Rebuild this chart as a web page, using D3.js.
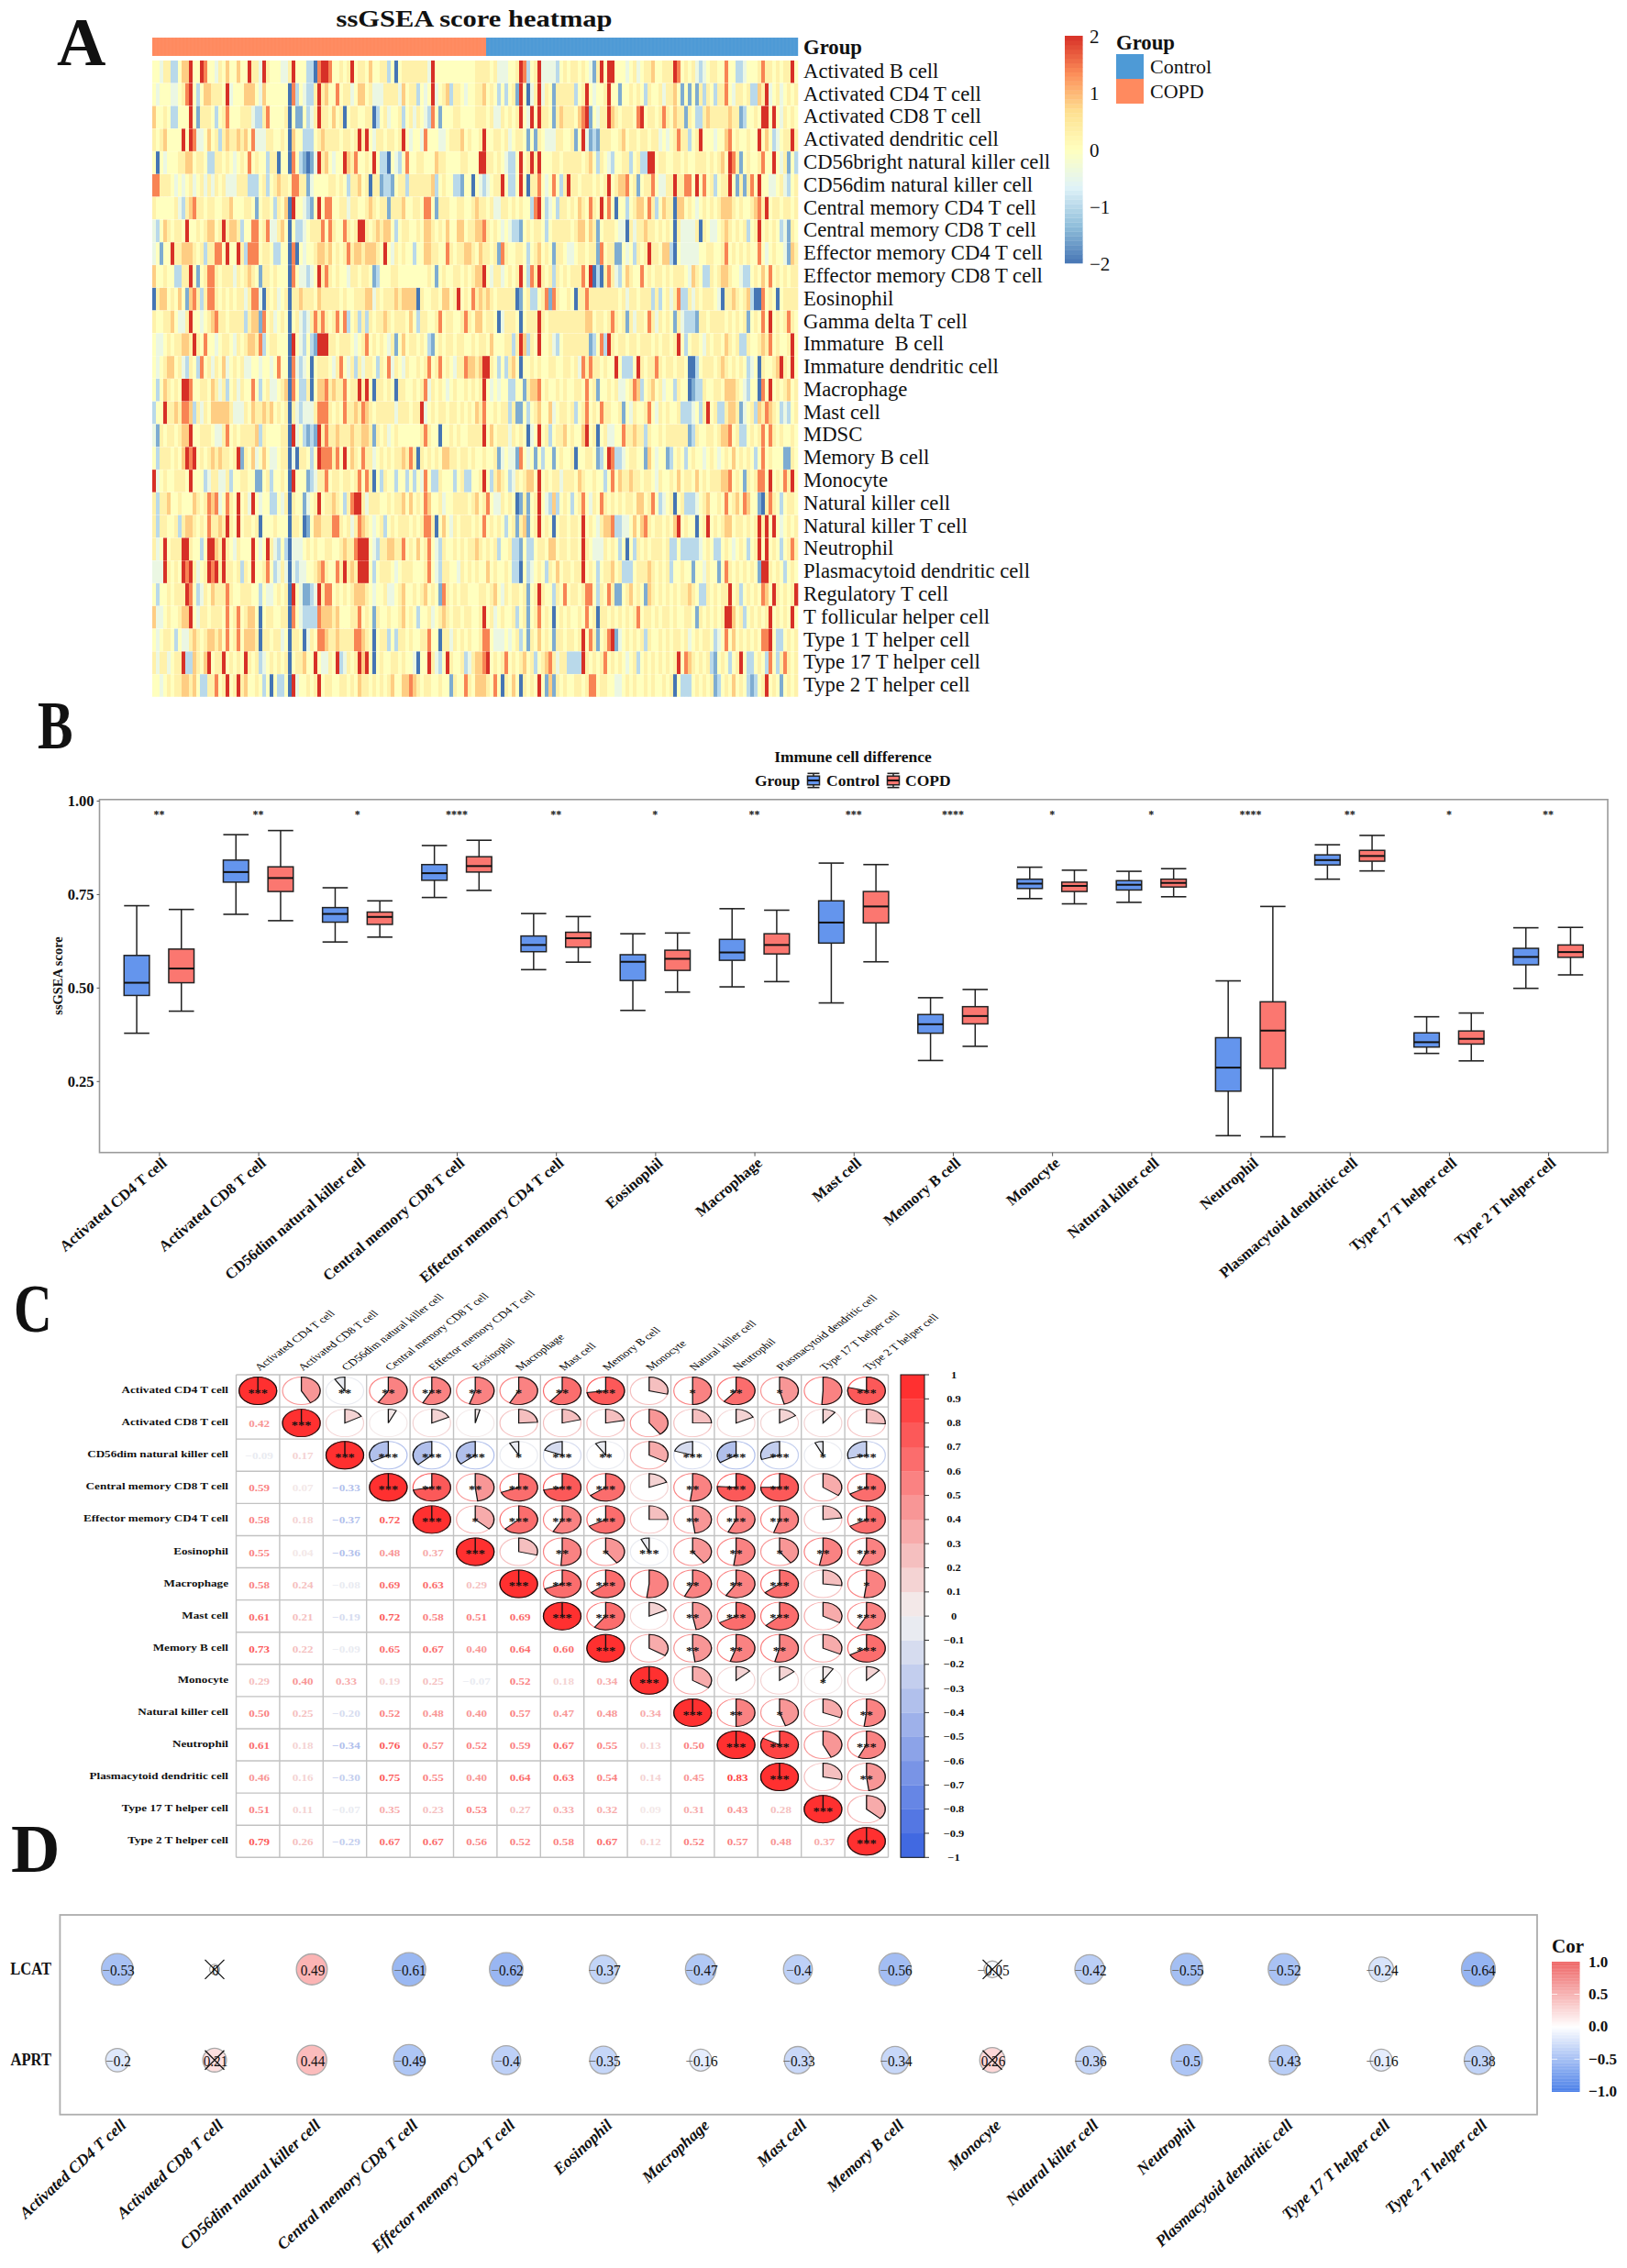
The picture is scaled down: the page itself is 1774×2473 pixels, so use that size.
<!DOCTYPE html>
<html><head><meta charset="utf-8">
<script src="https://cdn.jsdelivr.net/npm/d3@7/dist/d3.min.js"></script>
<style>
html,body{margin:0;padding:0;background:#fff}
svg{display:block}
text{font-family:"Liberation Serif",serif;fill:#111;white-space:pre}
</style></head><body>
<svg id="c" width="1774" height="2473"></svg>
<script>
/* ---------- Panel A data: colour levels 0-8 ---------- */
const heatLabels=["Activated B cell","Activated CD4 T cell","Activated CD8 T cell","Activated dendritic cell","CD56bright natural killer cell","CD56dim natural killer cell","Central memory CD4 T cell","Central memory CD8 T cell","Effector memory CD4 T cell","Effector memory CD8 T cell","Eosinophil","Gamma delta T cell","Immature  B cell","Immature dendritic cell","Macrophage","Mast cell","MDSC","Memory B cell","Monocyte","Natural killer cell","Natural killer T cell","Neutrophil","Plasmacytoid dendritic cell","Regulatory T cell","T follicular helper cell","Type 1 T helper cell","Type 17 T helper cell","Type 2 T helper cell"];
const heatLeft=[
"4435522466 8448744354 6446448553 8544433584 4422078874 4545845546 4455240455 5555538444 44444444",
"4344433457 8424665554 8344466643 6444444072 4322585644 7455346645 3335555364 5524348345 62554344",
"6445422444 8415554245 7444555322 5744445041 1423585546 4504554455 0245344524 5354327414 44554444",
"5456444484 8733464525 6556564733 3554454064 4222456555 5455458584 3554554584 3443744433 45556454",
"4043444556 6455422554 5434547454 4255044074 2101385643 4486574454 8422043247 4455444655 44445544",
"7755543434 5345353545 3335552224 5245655477 5513444455 4542556450 5512214552 5555556245 44221440",
"5444445325 6755455445 5644455414 5542546084 4321484774 4553554456 5455155564 4554774155 54455445",
"3246545548 4454566458 5665244774 5733564042 2345557475 4475458854 5656642455 4454665454 64466455",
"3414485566 6545255774 8448527774 5542244070 4344566564 5457566566 6548435454 4244665544 75455665",
"6445442255 8414577545 5535456541 5545444074 3323485754 5443554554 1244455444 4444454145 44554545",
"0566454641 6752577545 4545535773 0545345055 6555465555 5454455566 3545556566 6605445546 64584547",
"5445564335 8443456755 4555525661 7453454045 3235757545 7472452525 4556545554 6425544574 55445754",
"4334545566 5854744345 5435456657 2455444084 3242188855 4555434574 5454351464 5545421454 55455445",
"4345664532 5427453546 3454533443 4434744073 2340455543 5743525355 4254735435 4454574574 54355766",
"4246545488 7445546535 2453544742 4533456074 2250466756 5574558584 0554540554 4545735454 34544545",
"2448556577 6253546666 6533354655 6564545053 2333577754 5475565765 4555553555 4558345455 45545454",
"3154554566 8445554335 7454555562 5444455083 4212185755 6555655665 1545345444 4445754404 45454455",
"4255545468 7845456565 5458154634 6433455030 5542487775 7484654755 3454545565 7505454546 65545545",
"8345445554 8444235533 5244554411 4524454084 4412355745 5455457475 0425442442 4243742254 44245224",
"5255644544 4654576734 7548453843 4422435054 4134584556 5425788535 5544545564 6454764453 44555545",
"5255445256 6545475565 8548455450 4445444055 4014665557 7545357654 3452454555 4545775046 43545554",
"5348455588 5442488658 5435444843 4853242033 3454544554 4565578884 3255665574 5464574325 44545455",
"3338545487 8534587858 5545254844 5742353032 3344567544 7585658884 2455543455 5444574325 54435454",
"4244545558 7423546555 7544555442 4334545084 3112385774 5454566654 3445334564 4545645417 54545544",
"6334544566 8435545554 7457456640 4554455074 3222276665 6444557454 1544544564 5424453456 54554554",
"4345542433 5654566564 7457466650 5545534055 4035477655 6555577654 0455242554 5445574405 53545454",
"5355345582 2654684558 4545485452 3454545045 5644843354 8235458684 0454455454 4304485324 85445235",
"4434545566 5642255745 8458564454 2404224083 4454584554 4554546554 5454564466 7654554454 41544754"];
const heatRight=[
"5555453334 4587245833 3324545545 4315848844 4345345564 4555874545 3234554474 4223444575 54545584",
"5564542424 5184035835 4155555245 8434458441 4454542544 5355641414 1525425574 3554522658 34534545",
"5554533545 4584384855 4156555467 8143558654 5554784554 5754655154 2256555556 5512445488 48435454",
"4584455453 4554141543 3355445148 3121555445 6455455455 3434575524 5844434467 4544544846 42345585",
"4885545432 2484585844 4554555554 5642543244 5524522884 5544554544 5554545648 7514544574 48435142",
"4323455842 2484055743 4742585545 5545458456 6745145574 3355855774 8474524558 4151574844 33453245",
"6554533554 5454427842 3425545465 4754847404 4245664752 4655066454 3454545666 5454456758 45545545",
"6675454343 2214545542 4555554566 4651455543 3053556554 5454053333 5054334565 4545245845 45423154",
"4655451754 4554245645 4155433455 4551745511 4342545855 4662043333 3445544574 5454544743 45443165",
"6684355345 4584275854 5254545557 4802057532 4654474545 5454555436 5422545665 4432245464 74545455",
"5656545555 5014522457 1754454055 7555555554 5355455525 2453572253 5455543055 6545620074 54045555",
"6645540355 5404555854 5555555555 6645545754 5153554753 5454153222 1554555545 4545145474 84545754",
"4554644455 2586254844 5324555555 5124728545 5455455545 4554584245 5435455465 4522544565 74544584",
"5688542425 6404454544 5544554537 5755454484 2224854557 5455455400 2455545654 5454234054 45685484",
"4584343442 2441566745 4454544554 7451445453 3457624564 5344254401 2254455466 6543244074 84545645",
"6574454552 5114245644 6345545245 7454755445 1435445743 5454452223 4258452256 6513452657 65423245",
"5584645553 5454034845 2455645446 8450453344 7556552544 5455555512 5445545667 4522454574 75454454",
"4454451343 3174341424 4145445044 5541248722 3455441643 4412454245 4434543454 6454542474 54441154",
"4584256542 3545664845 4553555465 4454424746 5565545543 5445464554 6454555667 4541545774 84547584",
"6457433545 4015145843 2624542457 4354754545 4554664574 2345045222 3456445474 5647644105 75424554",
"5474545424 5156145845 4045545548 4543566722 3346467545 5454684544 0458454566 4554545858 48434545",
"6545452445 2214224554 6645545548 5433354542 4042545455 5452242222 2345422454 3454245848 45424575",
"5446454454 2204234542 5464554558 4542455645 2224555654 5452445441 4435441475 4545454188 54542454",
"4554564354 5545145854 4254745545 7742547511 4564541654 5454545565 4225454558 4524545476 48545458",
"4584534544 5245145745 4045454454 7450554545 4545745545 4554544554 1545454588 6452454545 84545484",
"4577433343 4524154645 4155455458 4751457813 4545452544 5454554534 5455423474 6454545477 84224545",
"6678454574 5456452456 7535522228 5454574545 4345245454 5454584765 4545214542 4584224542 74257545",
"6665474054 6405454841 6154544554 5774554433 4545445454 4545042224 5454512454 6454212458 45414545"];
const levelValues=[-2,-1.5,-1,-.42,0,.3,.82,1.4,2];
const groupNames=["COPD","Control"];
const groupCounts=[91,85];
const heatTicks=[2,1,0,-1,-2];

/* ---------- Panel B data ---------- */
const cells=["Activated CD4 T cell","Activated CD8 T cell","CD56dim natural killer cell","Central memory CD8 T cell","Effector memory CD4 T cell","Eosinophil","Macrophage","Mast cell","Memory B cell","Monocyte","Natural killer cell","Neutrophil","Plasmacytoid dendritic cell","Type 17 T helper cell","Type 2 T helper cell"];
const sig=["**","**","*","****","**","*","**","***","****","*","*","****","**","*","**"];
/* each box: [upper whisker, q3, median, q1, lower whisker] */
const boxControl=[[.719,.586,.513,.479,.378],[.909,.841,.809,.782,.696],[.767,.714,.697,.675,.622],[.880,.829,.806,.787,.741],[.698,.638,.614,.596,.548],[.644,.588,.569,.519,.439],[.711,.629,.594,.573,.502],[.833,.732,.674,.619,.459],[.473,.428,.402,.378,.305],[.822,.790,.778,.765,.738],[.811,.786,.775,.761,.728],[.518,.366,.286,.223,.104],[.882,.855,.841,.828,.790],[.422,.379,.354,.341,.324],[.660,.605,.582,.561,.498]];
const boxCOPD=[[.709,.603,.551,.513,.437],[.920,.823,.793,.757,.679],[.732,.702,.689,.669,.635],[.894,.850,.825,.809,.760],[.690,.648,.632,.608,.568],[.646,.600,.577,.546,.488],[.707,.644,.614,.590,.516],[.829,.757,.717,.673,.569],[.495,.449,.424,.403,.343],[.814,.782,.772,.757,.724],[.818,.790,.780,.769,.743],[.717,.462,.385,.284,.101],[.907,.867,.852,.838,.812],[.432,.384,.363,.349,.304],[.661,.614,.595,.581,.534]];
const boxTicks=[.25,.5,.75,1];

/* ---------- Panel C data: lower triangle of the correlation matrix ---------- */
const corrLower=[[1],[.42,1],[-.09,.17,1],[.59,.07,-.33,1],[.58,.18,-.37,.72,1],[.55,.04,-.36,.48,.37,1],[.58,.24,-.08,.69,.63,.29,1],[.61,.21,-.19,.72,.58,.51,.69,1],[.73,.22,-.09,.65,.67,.40,.64,.60,1],[.29,.40,.33,.19,.25,-.07,.52,.18,.34,1],[.50,.25,-.20,.52,.48,.40,.57,.47,.48,.34,1],[.61,.18,-.34,.76,.57,.52,.59,.67,.55,.13,.50,1],[.46,.16,-.30,.75,.55,.40,.64,.63,.54,.14,.45,.83,1],[.51,.11,-.07,.35,.23,.53,.27,.33,.32,.09,.31,.43,.28,1],[.79,.26,-.29,.67,.67,.56,.52,.58,.67,.12,.52,.57,.48,.37,1]];
/* number of significance stars in the upper triangle, row by row, starting at the diagonal */
const corrStars=["302232123012103","30000000000000","3333132033313","332333023303","31333023303","3021312123","333022301","33023303","3022203","300010","32102","3303","302","30","3"];
const corrTicks=d3.range(-10,11).map(d=>d/10);

/* ---------- Panel D data ---------- */
const genes=["LCAT","APRT"];
const geneCor=[[-.53,0,.49,-.61,-.62,-.37,-.47,-.4,-.56,-.05,-.42,-.55,-.52,-.24,-.64],[-.2,.21,.44,-.49,-.4,-.35,-.16,-.33,-.34,.26,-.36,-.5,-.43,-.16,-.38]];
const geneCross=[[1,9],[1,9]];
const corTicks=[1,.5,0,-.5,-1];

const svg=d3.select("#c");
svg.append("rect").attr("width",1774).attr("height",2473).attr("fill","#fff");
const T=(sel,x,y,s,size,opt={})=>{const t=sel.append("text").attr("x",x).attr("y",y).attr("font-size",size).text(s);
 if(opt.bold)t.attr("font-weight","bold"); if(opt.anchor)t.attr("text-anchor",opt.anchor); t.attr("dominant-baseline",opt.base||"central"); if(opt.tf)t.attr("transform",opt.tf); if(opt.fill)t.style("fill",opt.fill); if(opt.italic)t.attr("font-style","italic"); return t;};

/* panel letters */
const L=svg.append("g");
T(L,62,46,"A",74,{bold:1});
T(L,0,0,"B",74,{bold:1,tf:"translate(41,791) scale(.78,1)"});
svg.append("clipPath").attr("id","cc").append("rect").attr("x",0).attr("y",1390).attr("width",54).attr("height",80);
T(L.append("g").attr("clip-path","url(#cc)"),0,0,"C",74,{bold:1,tf:"translate(15,1427) scale(.78,1)"});
T(L,12,2016,"D",74,{bold:1});

/* ---------- A ---------- */
(function(){
 const rows=heatLeft.map((s,i)=>(s+heatRight[i]).replace(/ /g,""));
 const nc=d3.max(rows,r=>r.length);
 const x=d3.scaleBand().domain(d3.range(nc)).range([166,870]);
 const y=d3.scaleBand().domain(d3.range(heatLabels.length)).range([66,760]);
 const col=d3.scaleLinear().domain([2,1.333,.667,0,-.667,-1.333,-2]).range(["#D73027","#FC8D59","#FEE090","#FFFFBF","#E0F3F8","#91BFDB","#4575B4"]);
 const g=svg.append("g");
 T(g,0,0,"ssGSEA score heatmap",25,{bold:1,anchor:"middle",tf:"translate(517,20) scale(1.22,1)"});
 const groups=groupNames.flatMap((n,i)=>d3.range(groupCounts[i]).map(()=>n));
 const gc=d3.scaleOrdinal().domain(["Control","COPD"]).range(["#4E9AD6","#FF8A5F"]);
 g.selectAll("rect.a").data(groups).join("rect").attr("x",(d,i)=>x(i)).attr("y",41).attr("width",x.bandwidth()+.2).attr("height",20).attr("fill",gc).attr("stroke","rgba(255,255,255,.1)").attr("stroke-width",.5);
 rows.forEach((r,i)=>{
  g.append("g").selectAll("rect").data(r.split("")).join("rect")
   .attr("x",(d,j)=>x(j)).attr("y",y(i)).attr("width",x.bandwidth()+.3).attr("height",y.bandwidth()-.25)
   .attr("fill",d=>col(levelValues[+d]));
 });
 T(g,876,51,"Group",22.7,{bold:1});
 heatLabels.forEach((s,i)=>T(g,876,y(i)+y.bandwidth()/2-1,s,22.7));
 /* colour bar */
 const yb=d3.scaleLinear().domain([2,-2]).range([39,287]);
 const steps=d3.range(-2,2,4/50);
 g.selectAll("rect.b").data(steps).join("rect").attr("x",1161).attr("width",19.6).attr("y",d=>yb(d+.08)).attr("height",yb(0)-yb(.08)+.3).attr("fill",d=>col(d+.04));
 heatTicks.forEach(t=>T(g,1188,yb(t)+1,String(t).replace("-","\u2212"),21));
 T(g,1217,46,"Group",22.7,{bold:1});
 [["Control",59,72],["COPD",86,99]].forEach(([n,y0,ty])=>{g.append("rect").attr("x",1217).attr("y",y0).attr("width",30).attr("height",27).attr("fill",gc(n));T(g,1254,ty,n,22);});
})();

/* ---------- B ---------- */
(function(){
 const g=svg.append("g");
 const x=d3.scalePoint().domain(cells).range([108.5,1753]).padding(.6);
 const y=d3.scaleLinear().domain([1,.25]).range([873,1178.8]);
 const step=x.step(), off=.225*step, w=.255*step;
 const C={Control:"#6495ED",COPD:"#FB7770"};
 const drawBox=(b,cx,fill,par,hw,yy)=>{
  const [hi,q3,md,q1,lo]=b;
  par.append("line").attr("x1",cx).attr("x2",cx).attr("y1",yy(hi)).attr("y2",yy(lo)).attr("stroke","#222").attr("stroke-width",1.5);
  [hi,lo].forEach(v=>par.append("line").attr("x1",cx-hw).attr("x2",cx+hw).attr("y1",yy(v)).attr("y2",yy(v)).attr("stroke","#222").attr("stroke-width",1.6));
  par.append("rect").attr("x",cx-hw).attr("width",2*hw).attr("y",yy(q3)).attr("height",yy(q1)-yy(q3)).attr("fill",fill).attr("stroke","#222").attr("stroke-width",1.5);
  par.append("line").attr("x1",cx-hw).attr("x2",cx+hw).attr("y1",yy(md)).attr("y2",yy(md)).attr("stroke","#111").attr("stroke-width",2);
 };
 cells.forEach((c,i)=>{
  drawBox(boxControl[i],x(c)-off,C.Control,g,w/2,y);
  drawBox(boxCOPD[i],x(c)+off,C.COPD,g,w/2,y);
  T(g,x(c),888,sig[i],12,{bold:1,anchor:"middle"});
 });
 g.append("rect").attr("x",108.5).attr("y",871.8).attr("width",1644.5).attr("height",384.9).attr("fill","none").attr("stroke","#9a9a9a").attr("stroke-width",1.6);
 const ax=g.append("g").attr("transform","translate(108.5,0)").call(d3.axisLeft(y).tickValues(boxTicks).tickFormat(d3.format(".2f")).tickSize(3));
 ax.select(".domain").remove(); ax.selectAll("line").attr("stroke","#555");
 ax.selectAll("text").attr("font-size",16.5).attr("font-weight","bold").attr("font-family","Liberation Serif");
 const bx=g.append("g").attr("transform","translate(0,1256.7)").call(d3.axisBottom(x).tickSize(4));
 bx.select(".domain").remove(); bx.selectAll("line").attr("stroke","#555");
 bx.selectAll("text").attr("font-size",16.6).attr("font-weight","bold").attr("font-family","Liberation Serif").attr("text-anchor","end").attr("dy",0).attr("y",0)
  .attr("transform","translate(9,13) rotate(-40.5)");
 T(g,0,0,"ssGSEA score",14.5,{bold:1,anchor:"middle",tf:"translate(63,1064) rotate(-90)"});
 T(g,930,825,"Immune cell difference",17.5,{bold:1,anchor:"middle"});
 T(g,823,851,"Group",17.5,{bold:1});
 const yk=d3.scaleLinear().domain([0,1]).range([859,843]);
 drawBox([.98,.8,.5,.2,.02],887,C.Control,g,6.5,yk);
 T(g,901,851,"Control",17.5,{bold:1});
 drawBox([.98,.8,.5,.2,.02],974,C.COPD,g,6.5,yk);
 T(g,987,851,"COPD",17.5,{bold:1});
})();

/* ---------- C ---------- */
(function(){
 const g=svg.append("g");
 const x=d3.scaleBand().domain(cells).range([257.5,968.5]);
 const y=d3.scaleBand().domain(cells).range([1499,2025.3]);
 const interp=d3.piecewise(d3.interpolateRgb,["#4169E1","#F2F2F2","#FF3030"]);
 const col=d3.scaleQuantize().domain([-1,1]).range(d3.quantize(interp,20));
 const rx=20.5, ry=15, sx=rx/ry;
 const arc=d3.arc().innerRadius(0).outerRadius(ry);
 cells.forEach(c=>{
  g.append("line").attr("x1",x(c)).attr("x2",x(c)).attr("y1",1499).attr("y2",2025.3);
  g.append("line").attr("x1",257.5).attr("x2",968.5).attr("y1",y(c)).attr("y2",y(c));
 });
 g.append("line").attr("x1",968.5).attr("x2",968.5).attr("y1",1499).attr("y2",2025.3);
 g.append("line").attr("x1",257.5).attr("x2",968.5).attr("y1",2025.3).attr("y2",2025.3);
 g.selectAll("line").attr("stroke","#c2c2c2").attr("stroke-width",1.4);
 corrLower.forEach((r,i)=>r.forEach((v,j)=>{
  const cx=x(cells[j])+x.bandwidth()/2, cy=y(cells[i])+y.bandwidth()/2;
  if(i!==j) T(g,0,0,v.toFixed(2).replace("-","\u2212"),10.5,{bold:1,anchor:"middle",fill:col(v),tf:`translate(${cx+1.5},${cy+1}) scale(1.25,1)`});
  /* pie in the mirrored upper cell: column i, row j */
  const px=x(cells[i])+x.bandwidth()/2, py=y(cells[j])+y.bandwidth()/2;
  const pg=g.append("g").attr("transform",`translate(${px},${py}) scale(${sx},1)`);
  pg.append("circle").attr("r",ry).attr("fill","#fff").attr("stroke",col(v)).attr("stroke-width",.9);
  pg.append("path").attr("d",arc({startAngle:0,endAngle:v*2*Math.PI})).attr("fill",col(v)).attr("stroke","#111").attr("stroke-width",.95);
  if(i===j) pg.append("line").attr("y2",-ry).attr("stroke","#111").attr("stroke-width",1);
  const n=+corrStars[j][i-j];
  if(n>0) T(g,0,0,"*".repeat(n),12,{bold:1,anchor:"middle",tf:`translate(${px},${py+2.2}) scale(1.2,1)`,fill:"#111"});
 }));
 cells.forEach(c=>{
  T(g,0,0,c,10.5,{bold:1,anchor:"end",tf:`translate(249,${y(c)+y.bandwidth()/2-1}) scale(1.25,1)`});
  T(g,0,0,c,10.3,{tf:`translate(${x(c)+x.bandwidth()/2+2},1495) scale(1.33,1) rotate(-45)`,base:"auto",fill:"#000"});
 });
 const yb=d3.scaleLinear().domain([1,-1]).range([1499,2025.3]);
 const bins=d3.range(-1,1,.1);
 g.append("g").selectAll("rect").data(bins).join("rect").attr("x",982).attr("width",26).attr("y",d=>yb(d+.1)).attr("height",yb(0)-yb(.1)+.2).attr("fill",d=>col(d+.05));
 g.append("rect").attr("x",982).attr("y",1499).attr("width",26).attr("height",526.3).attr("fill","none").attr("stroke","#111").attr("stroke-width",1);
 corrTicks.forEach(t=>{
  g.append("line").attr("x1",1008).attr("x2",1013).attr("y1",yb(t)).attr("y2",yb(t)).attr("stroke","#333").attr("stroke-width",1);
  T(g,0,0,String(t).replace("-","\u2212"),10,{bold:1,anchor:"middle",tf:`translate(1040,${yb(t)}) scale(1.25,1)`});
 });
})();

/* ---------- D ---------- */
(function(){
 const g=svg.append("g");
 const x=d3.scalePoint().domain(cells).range([64.4,1675.6]).padding(.6);
 const y=d3.scalePoint().domain(genes).range([2088,2305.7]).padding(.6);
 const col=d3.scaleLinear().domain([-1,0,1]).range(["#5A8AEA","#ffffff","#F76666"]);
 const rad=d3.scaleSqrt().domain([0,.64]).range([5.5,18.5]);
 g.append("rect").attr("x",65.4).attr("y",2088).attr("width",1610.6).attr("height",217.7).attr("fill","none").attr("stroke","#adadad").attr("stroke-width",1.8);
 genes.forEach((n,i)=>{
  T(g,0,0,n,18,{bold:1,anchor:"end",tf:`translate(56,${y(n)}) scale(.92,1)`});
  cells.forEach((c,j)=>{
   const v=geneCor[i][j], cx=x(c), cy=y(n);
   g.append("circle").attr("cx",cx).attr("cy",cy).attr("r",rad(Math.abs(v))).attr("fill",col(v)).attr("stroke","#a8a8a8").attr("stroke-width",1.3);
   const t=T(g,0,0,"",17.5,{anchor:"middle",tf:`translate(${cx+1},${cy}) scale(.87,1)`});
   if(v<0){t.append("tspan").style("fill","#666").text("\u2212");}
   t.append("tspan").text(String(Math.abs(v)));
   if(geneCross[i].includes(j)){
    const s=10.5;
    g.append("path").attr("d",`M${cx-s},${cy-s}L${cx+s},${cy+s}M${cx-s},${cy+s}L${cx+s},${cy-s}`).attr("stroke","#111").attr("stroke-width",1.3).attr("fill","none");
   }
  });
 });
 const bx=g.append("g").attr("transform","translate(0,2305.7)").call(d3.axisBottom(x).tickSize(0).tickPadding(0));
 bx.select(".domain").remove();
 bx.selectAll("text").attr("font-size",17.6).attr("font-weight","bold").attr("font-style","italic").attr("font-family","Liberation Serif").attr("text-anchor","end").attr("y",0).attr("dy",0)
  .attr("transform","translate(10,13) rotate(-42.5)");
 T(g,1692,2122,"Cor",21,{bold:1});
 const yb=d3.scaleLinear().domain([1,-1]).range([2139,2280.7]);
 const barCol=d3.scaleLinear().domain([-1,0,1]).range(["#4A7FE8","#ffffff","#EE6666"]);
 const steps=d3.range(-1,1,.02);
 g.append("g").selectAll("rect").data(steps).join("rect").attr("x",1692).attr("width",30.5).attr("y",d=>yb(d+.02)).attr("height",yb(0)-yb(.02)+.3).attr("fill",d=>barCol(d+.01));
 corTicks.forEach(t=>{
  T(g,1732,yb(t),t.toFixed(1).replace("-","\u2212"),17,{bold:1});
  if(Math.abs(t)<1){[[1692,1698],[1716.5,1722.5]].forEach(([a,b])=>g.append("line").attr("x1",a).attr("x2",b).attr("y1",yb(t)).attr("y2",yb(t)).attr("stroke","#fff").attr("stroke-width",.8));}
 });
})();
</script></body></html>
